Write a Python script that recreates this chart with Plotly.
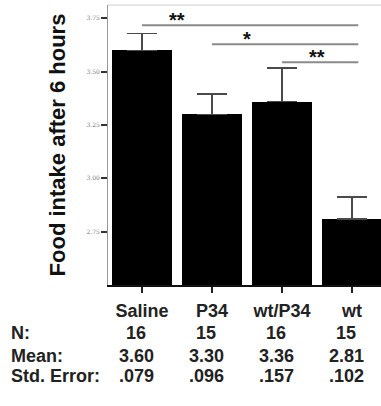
import plotly.graph_objects as go

# ---- data ----
categories = ["Saline", "P34", "wt/P34", "wt"]
n_values = [16, 15, 16, 15]
means = [3.60, 3.30, 3.36, 2.81]
std_errors = [0.079, 0.096, 0.157, 0.102]
mean_labels = ["3.60", "3.30", "3.36", "2.81"]
se_labels = [".079", ".096", ".157", ".102"]
y_ticks = [2.75, 3.00, 3.25, 3.50, 3.75]
y_tick_labels = ["2.75", "3.00", "3.25", "3.50", "3.75"]
sig_start = [0, 1, 2]
sig_end = [3, 3, 3]
sig_level = [3.717, 3.628, 3.544]
sig_text = ["**", "*", "**"]

FONT = "Liberation Sans, Arial, sans-serif"
idx = list(range(len(categories)))

fig = go.Figure()
fig.add_trace(go.Bar(
    x=idx, y=means, width=0.857,
    marker=dict(color="black", line=dict(width=0)),
    error_y=dict(type="data", array=std_errors, arrayminus=[0]*4, symmetric=False,
                 color="#4a4a4a", thickness=1.5, width=15),
    hoverinfo="skip",
))

shapes = []
annotations = []
for s, e, lv, t in zip(sig_start, sig_end, sig_level, sig_text):
    shapes.append(dict(type="line", xref="x", yref="y", x0=s, x1=e + 0.09, y0=lv, y1=lv,
                       line=dict(color="#8a8a8a", width=2)))
    annotations.append(dict(xref="x", yref="y", x=s + 0.5, y=lv, text="<b>%s</b>" % t,
                            showarrow=False, yanchor="bottom", yshift=-8,
                            font=dict(family=FONT, size=20, color="#111")))

# top frame line
shapes.append(dict(type="line", xref="paper", yref="paper", x0=0, x1=1, y0=1, y1=1,
                   line=dict(color="#d0d0d0", width=1)))

row_y = [-0.171, -0.254, -0.326]
row_names = ["N:", "Mean:", "Std. Error:"]
row_vals = [[str(v) for v in n_values], mean_labels, se_labels]
for ry, name, vals in zip(row_y, row_names, row_vals):
    annotations.append(dict(xref="paper", yref="paper", x=-0.363, y=ry, text="<b>%s</b>" % name,
                            showarrow=False, xanchor="left", yanchor="middle",
                            font=dict(family=FONT, size=18, color="#222")))
    for i, v in enumerate(vals):
        annotations.append(dict(xref="x", yref="paper", x=i - 0.08, y=ry, text="<b>%s</b>" % v,
                                showarrow=False, xanchor="center", yanchor="middle",
                                font=dict(family=FONT, size=18, color="#222")))

fig.update_layout(
    width=381, height=406,
    margin=dict(l=108, r=0, t=5, b=121),
    paper_bgcolor="white", plot_bgcolor="white",
    showlegend=False,
    bargap=0,
    shapes=shapes, annotations=annotations,
    xaxis=dict(range=[-0.486, 3.414], tickvals=idx,
               ticktext=["<b>%s</b>" % c for c in categories],
               ticks="outside", ticklen=6, tickwidth=1.5, tickcolor="#222",
               ticklabelstandoff=3,
               showline=True, linecolor="#111", linewidth=1.5,
               showgrid=False, zeroline=False, automargin=False,
               tickfont=dict(family=FONT, size=18, color="#222"), fixedrange=True),
    yaxis=dict(range=[2.5, 3.8125], tickvals=y_ticks, ticktext=y_tick_labels,
               ticks="outside", ticklen=6, tickwidth=1.5, tickcolor="#333",
               showline=True, linecolor="#999", linewidth=1,
               showgrid=False, zeroline=False, automargin=False,
               tickfont=dict(family="DejaVu Serif, serif", size=6, color="#777"),
               title=dict(text="<b>Food intake after 6 hours</b>", standoff=14,
                          font=dict(family=FONT, size=22, color="#111")),
               fixedrange=True),
)

fig.write_html("out.html", config={"displayModeBar": False},
               post_script="document.body.style.margin='0';document.body.style.padding='0';")
